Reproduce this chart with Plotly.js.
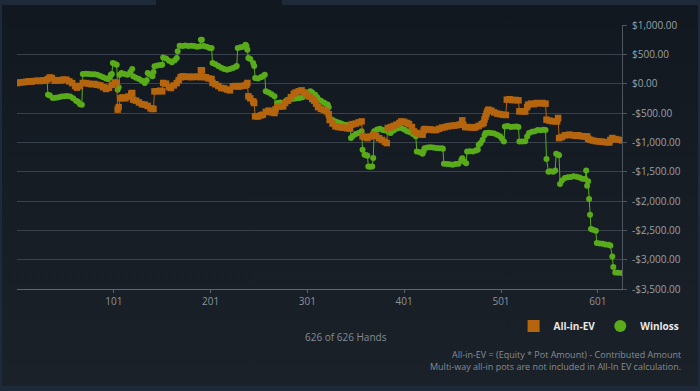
<!DOCTYPE html>
<html><head><meta charset="utf-8">
<script src="https://cdn.plot.ly/plotly-3.0.1.min.js"></script>
<style>
html,body{margin:0;padding:0;width:700px;height:391px;overflow:hidden;background:#1e2a39;}
#panel{position:absolute;left:2px;top:5px;width:696px;height:381px;background:linear-gradient(#111820,#1b2129);}
#tab{position:absolute;left:156px;top:0;width:126px;height:6px;background:#111820;}
#chart{position:absolute;left:0;top:0;width:700px;height:391px;}
</style></head>
<body>
<div id="panel"></div><div id="tab"></div>
<div id="chart"></div>
<script>
// [hand, dollars]
const allInEvPoints = [[1,10],[4,20],[7,25],[10,30],[13,40],[16,35],[19,45],[22,50],[25,45],[28,55],[31,60],[33,80],[35,107],[37,95],[40,51],[43,60],[46,55],[49,70],[52,68],[55,40],[58,10],[61,-40],[63,-68],[66,-40],[69,12],[72,10],[75,0],[78,-10],[81,-5],[84,-20],[87,-29],[90,-60],[93,-90],[96,-70],[99,-20],[102,22],[104,10],[105,-443],[106,-400],[108,-250],[110,-233],[113,-250],[116,-220],[119,-170],[120,-159],[121,-273],[124,-290],[127,-320],[130,-350],[133,-358],[136,-380],[139,-420],[141,-431],[142,-430],[143,-131],[146,-130],[149,-120],[151,-131],[152,12],[155,0],[158,-60],[160,-73],[163,-30],[166,10],[168,60],[170,110],[172,125],[175,115],[178,120],[181,110],[184,120],[187,115],[190,114],[191,227],[192,227],[193,114],[196,110],[199,90],[202,80],[203,12],[206,-10],[209,-40],[212,-73],[215,-80],[218,-100],[221,-114],[224,-46],[227,-40],[230,-50],[233,-40],[236,-34],[238,-20],[239,12],[240,-216],[242,-250],[245,-302],[246,-330],[247,-557],[250,-560],[253,-540],[255,-529],[258,-480],[261,-460],[264,-490],[267,-500],[268,-440],[270,-387],[273,-390],[276,-387],[278,-330],[281,-290],[284,-230],[287,-170],[289,-150],[292,-130],[295,-114],[298,-150],[300,-188],[303,-220],[306,-260],[308,-290],[310,-340],[312,-400],[315,-430],[318,-450],[321,-472],[323,-520],[324,-620],[327,-680],[330,-728],[333,-740],[336,-745],[339,-750],[342,-760],[345,-767],[346,-700],[348,-690],[351,-680],[354,-660],[357,-643],[358,-898],[360,-910],[363,-927],[366,-900],[369,-870],[372,-890],[375,-930],[378,-960],[381,-990],[383,-1013],[384,-756],[387,-740],[390,-720],[393,-699],[396,-670],[398,-643],[401,-650],[404,-670],[406,-690],[409,-740],[411,-813],[414,-840],[417,-860],[420,-870],[421,-800],[422,-773],[425,-780],[428,-780],[431,-790],[434,-790],[437,-770],[440,-750],[443,-740],[446,-728],[449,-720],[452,-715],[455,-710],[458,-700],[460,-690],[461,-626],[462,-700],[464,-740],[467,-740],[470,-745],[473,-750],[475,-740],[478,-720],[481,-690],[483,-671],[484,-610],[485,-560],[486,-510],[487,-470],[488,-443],[491,-460],[494,-490],[497,-510],[500,-520],[503,-530],[506,-534],[507,-273],[510,-265],[513,-280],[516,-278],[519,-284],[520,-472],[523,-470],[526,-475],[528,-400],[529,-358],[532,-340],[535,-350],[538,-330],[541,-335],[544,-330],[547,-341],[548,-614],[551,-630],[554,-640],[557,-640],[559,-643],[560,-585],[561,-927],[564,-910],[567,-880],[570,-875],[572,-870],[575,-880],[578,-890],[581,-880],[584,-895],[587,-900],[590,-898],[591,-940],[593,-956],[596,-970],[599,-980],[602,-984],[605,-990],[608,-995],[611,-1000],[613,-1000],[614,-960],[616,-927],[619,-945],[622,-955],[626,-966]];

const winlossPoints = [[1,10],[4,20],[7,25],[10,30],[13,40],[16,35],[19,45],[22,50],[25,45],[28,55],[31,60],[32,60],[33,-188],[35,-200],[38,-245],[41,-240],[44,-230],[47,-220],[50,-215],[53,-210],[56,-220],[59,-250],[62,-290],[64,-310],[66,-350],[68,-358],[69,165],[72,170],[75,165],[78,160],[81,160],[84,150],[87,130],[90,110],[93,90],[95,80],[97,110],[98,150],[99,165],[100,353],[102,340],[104,324],[105,-102],[106,-60],[107,150],[109,182],[112,165],[115,150],[118,200],[120,250],[121,125],[124,100],[127,80],[130,50],[133,12],[135,60],[136,182],[139,150],[141,125],[142,200],[143,295],[146,310],[149,320],[151,324],[152,448],[155,430],[158,390],[161,363],[164,400],[166,438],[167,551],[169,648],[172,640],[175,650],[178,640],[181,645],[184,640],[187,630],[190,636],[191,750],[192,750],[194,640],[197,630],[200,610],[202,607],[203,353],[206,330],[209,300],[212,270],[215,250],[218,239],[221,250],[224,267],[227,290],[228,300],[229,607],[232,620],[235,630],[237,665],[238,640],[239,580],[240,438],[242,420],[245,353],[246,300],[247,97],[250,90],[253,110],[255,125],[257,153],[258,-131],[261,-150],[264,-180],[267,-216],[268,-431],[270,-330],[273,-320],[276,-330],[279,-290],[281,-273],[284,-260],[287,-255],[290,-250],[293,-245],[296,-230],[299,-200],[301,-170],[304,-131],[306,-150],[309,-188],[311,-230],[312,-262],[315,-290],[318,-320],[321,-350],[322,-358],[323,-400],[324,-585],[327,-620],[330,-643],[333,-660],[336,-680],[339,-699],[342,-705],[345,-710],[346,-927],[348,-892],[351,-860],[354,-840],[357,-813],[358,-1125],[360,-1210],[362,-1220],[363,-1230],[364,-1410],[366,-1415],[368,-1410],[369,-1267],[370,-813],[373,-780],[376,-770],[379,-790],[382,-800],[385,-830],[387,-842],[390,-800],[393,-770],[395,-756],[398,-756],[401,-780],[404,-813],[407,-830],[410,-860],[413,-898],[414,-1157],[417,-1170],[420,-1193],[421,-1150],[422,-1100],[425,-1090],[428,-1085],[431,-1090],[434,-1095],[437,-1100],[440,-1100],[441,-1110],[442,-1364],[445,-1370],[448,-1375],[451,-1381],[454,-1370],[457,-1364],[460,-1300],[461,-1270],[463,-1330],[465,-1356],[466,-1157],[469,-1150],[472,-1155],[475,-1140],[477,-1125],[478,-1040],[480,-1013],[482,-955],[484,-880],[485,-842],[488,-835],[491,-842],[494,-850],[497,-870],[500,-898],[502,-940],[504,-984],[505,-728],[508,-720],[511,-740],[514,-735],[517,-728],[519,-740],[520,-984],[523,-984],[526,-980],[528,-900],[530,-842],[533,-820],[536,-810],[539,-790],[542,-795],[545,-785],[547,-790],[548,-1284],[550,-1500],[552,-1495],[555,-1500],[557,-1480],[558,-1193],[560,-1210],[561,-1220],[562,-1710],[564,-1650],[567,-1608],[570,-1595],[573,-1590],[576,-1580],[579,-1585],[582,-1600],[585,-1620],[588,-1625],[589,-1478],[590,-1739],[591,-1665],[592,-1966],[593,-2234],[594,-2478],[596,-2490],[599,-2506],[600,-2716],[603,-2725],[606,-2730],[609,-2740],[612,-2745],[614,-2760],[616,-2944],[617,-3126],[619,-3217],[622,-3225],[626,-3228]];

const xTickValues = [101, 201, 301, 401, 501, 601];
const yTickValues = [1000, 500, 0, -500, -1000, -1500, -2000, -2500, -3000, -3500];
const yTickLabels = ['$1,000.00', '$500.00', '$0.00', '-$500.00', '-$1,000.00', '-$1,500.00', '-$2,000.00', '-$2,500.00', '-$3,000.00', '-$3,500.00'];
const seriesNames = ['All-in-EV', 'Winloss'];
const handsLabel = '626 of 626 Hands';
const footnotes = ['All-in-EV = (Equity * Pot Amount) - Contributed Amount', 'Multi-way all-in pots are not included in All-In EV calculation.'];

const ORANGE = '#b4650e';
const GREEN = '#5aab1a';
const FONT = 'Open Sans, sans-serif';

const traces = [
  {
    x: winlossPoints.map(p => p[0]), y: winlossPoints.map(p => p[1]),
    type: 'scatter', mode: 'lines+markers', name: seriesNames[1], showlegend: false,
    line: {color: GREEN, width: 1},
    marker: {symbol: 'circle', size: 6, color: GREEN}
  },
  {
    x: allInEvPoints.map(p => p[0]), y: allInEvPoints.map(p => p[1]),
    type: 'scatter', mode: 'lines+markers', name: seriesNames[0], showlegend: false,
    line: {color: ORANGE, width: 1},
    marker: {symbol: 'square', size: 6.5, color: ORANGE}
  },
  {x: [null], y: [null], type: 'scatter', mode: 'markers', name: seriesNames[0],
   marker: {symbol: 'square', size: 12, color: ORANGE}},
  {x: [null], y: [null], type: 'scatter', mode: 'markers', name: seriesNames[1],
   marker: {symbol: 'circle', size: 12, color: GREEN}}
];

const layout = {
  width: 700, height: 391,
  paper_bgcolor: 'rgba(0,0,0,0)', plot_bgcolor: 'rgba(0,0,0,0)',
  margin: {l: 17, r: 78, t: 25, b: 102, pad: 0},
  font: {family: FONT, size: 10, color: '#8b929a'},
  showlegend: true,
  legend: {
    orientation: 'h', xref: 'container', yref: 'container',
    x: 0.978, xanchor: 'right', y: 0.166, yanchor: 'middle',
    font: {family: FONT, size: 10, color: '#e8e8e8', weight: 700},
    bgcolor: 'rgba(0,0,0,0)', itemwidth: 30, traceorder: 'normal'
  },
  xaxis: {
    range: [1, 626], tickvals: xTickValues, ticktext: xTickValues.map(String),
    showgrid: false, zeroline: false, showline: true, linecolor: '#5c646e', linewidth: 1,
    ticks: 'outside', ticklen: 3, tickcolor: '#5c646e',
    tickfont: {family: FONT, size: 10, color: '#8b929a'}, fixedrange: true
  },
  yaxis: {
    side: 'right', range: [-3500, 1000], tickvals: yTickValues, ticktext: yTickLabels,
    showgrid: true, gridcolor: '#38414c', gridwidth: 1, zeroline: false,
    showline: true, linecolor: '#4d5661', linewidth: 1,
    ticks: 'outside', ticklen: 4, tickcolor: '#4d5661', ticklabelstandoff: 3,
    tickfont: {family: FONT, size: 10, color: '#9aa0a7'}, fixedrange: true
  },
  annotations: [
    {text: handsLabel, xref: 'paper', yref: 'paper', x: 0.544, y: -0.181,
     xanchor: 'center', yanchor: 'middle', showarrow: false,
     font: {family: FONT, size: 10, color: '#858c95'}},
    {text: footnotes[0], xref: 'paper', yref: 'paper', x: 1.101, y: -0.249,
     xanchor: 'right', yanchor: 'middle', showarrow: false,
     font: {family: FONT, size: 9, color: '#858c95'}},
    {text: footnotes[1], xref: 'paper', yref: 'paper', x: 1.101, y: -0.294,
     xanchor: 'right', yanchor: 'middle', showarrow: false,
     font: {family: FONT, size: 9, color: '#858c95'}}
  ]
};

Plotly.newPlot('chart', traces, layout, {displayModeBar: false, staticPlot: true});
</script>
</body></html>
